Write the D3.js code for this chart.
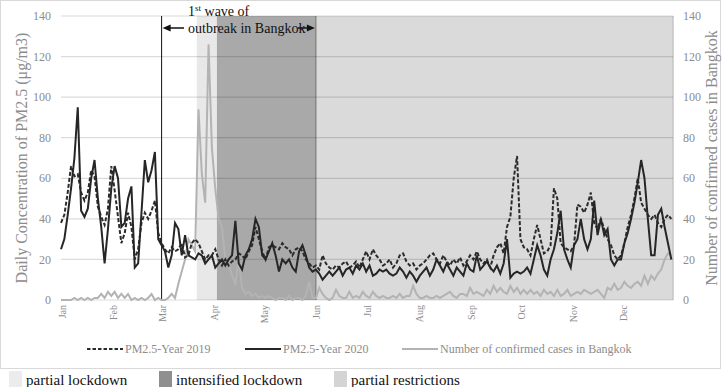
<!DOCTYPE html>
<head>
  <meta charset="utf-8">
  <script src="https://d3js.org/d3.v7.min.js"></script>
  <style>
    body { margin: 0; background: #fff; }
    text { font-family: "Liberation Serif", "Times New Roman", serif; }
    .tick-label { fill: #8c8c8c; font-size: 12px; }
  </style>
</head>
<body>
<svg width="722" height="387"></svg>
<script>
// daily values sampled every 2 days from Jan 1 (2020 calendar)
var pm2019 = [
  38,42,53,66,61,62,53,49,53,64,
  61,46,41,37,45,66,54,41,28,33,
  43,36,20,25,38,43,40,44,49,33,
  28,25,23,26,24,25,28,21,22,28,
  30,28,24,20,22,22,25,20,17,20,
  17,19,20,23,22,20,24,27,36,30,
  24,20,26,27,26,25,28,26,25,22,
  25,26,24,20,18,16,17,15,22,18,
  16,15,17,16,18,19,16,17,19,16,
  20,24,20,25,22,20,17,18,20,16,
  18,22,23,19,17,18,15,17,18,20,
  22,23,20,18,22,19,17,20,18,21,
  17,19,22,20,24,20,18,20,16,22,
  26,28,23,36,41,60,71,30,26,25,
  22,30,37,30,23,24,27,55,50,28,
  26,25,24,27,47,46,43,47,53,38,
  35,40,35,30,27,22,20,22,28,36,
  42,50,60,48,45,42,40,42,38,36,
  40,42,40
];
var pm2020 = [
  25,30,42,55,70,95,44,41,45,60,
  69,50,36,18,35,55,66,60,36,38,
  50,56,16,18,43,69,58,64,73,30,
  27,24,16,22,38,35,22,32,22,21,
  20,23,22,18,20,22,16,18,20,17,
  20,22,39,18,15,22,25,30,40,36,
  22,20,24,28,22,14,20,18,20,16,
  14,24,27,22,16,14,15,13,10,12,
  14,12,14,16,12,15,16,13,17,15,
  18,14,17,12,13,15,14,15,13,12,
  13,16,14,11,14,12,9,12,14,16,
  12,15,20,17,14,18,15,12,16,14,
  12,18,15,14,22,15,17,19,16,14,
  17,13,18,30,11,13,14,13,14,16,
  13,20,27,22,15,12,20,25,33,44,
  25,20,16,27,30,40,30,25,30,49,
  32,40,32,35,20,17,20,20,28,33,
  40,48,58,69,60,40,22,22,42,45,
  36,28,20
];
var cases = [
  0,0,0,0,1,0,1,0,1,0,
  1,1,3,1,4,2,4,1,3,1,
  3,0,1,0,1,0,1,3,0,1,
  0,0,1,3,1,8,14,20,30,27,
  24,94,62,48,126,75,55,40,36,20,
  18,12,8,20,6,3,4,2,3,1,
  2,1,2,1,0,1,1,0,2,0,
  1,1,0,2,9,1,1,6,3,1,
  0,1,5,2,1,1,4,1,2,1,
  4,2,1,4,2,1,2,1,1,2,
  1,3,1,2,2,7,3,1,1,2,
  1,1,2,1,2,3,4,2,1,3,
  3,2,6,3,4,3,2,5,3,7,
  4,6,4,3,7,4,6,3,5,3,
  5,3,4,2,5,3,4,2,5,2,
  3,5,2,3,4,3,5,4,3,4,
  5,3,1,6,5,8,5,6,9,7,
  6,8,9,7,12,8,12,10,13,15,
  20,23,22
];
var months = ["Jan","Feb","Mar","Apr","May","Jun","Jul","Aug","Sep","Oct","Nov","Dec"];
var yTicks = [0,20,40,60,80,100,120,140];
// measure periods
var periods = [
  {name: "partial lockdown", start: new Date(2020,2,22), end: new Date(2020,3,3), color: "#e8e8e8", swatch: "#ececec"},
  {name: "intensified lockdown", start: new Date(2020,3,3), end: new Date(2020,5,1), color: "#a9a9a9", swatch: "#8f8f8f"},
  {name: "partial restrictions", start: new Date(2020,5,1), end: new Date(2020,11,31), color: "#dadada", swatch: "#d4d4d4"}
];
var waveStart = new Date(2020,2,1), waveEnd = new Date(2020,5,1);

var svg = d3.select("svg");
var t0 = new Date(2020,0,1);
function dateOf(i) { return d3.timeDay.offset(t0, i * 2); }

var x = d3.scaleTime().domain([t0, new Date(2020,11,31)]).range([61, 673]);
var y = d3.scaleLinear().domain([0, 140]).range([300, 16]);
var yr = d3.scaleLinear().domain([0, 140]).range([300, 16]);

// outer frame
svg.append("rect").attr("x", 0.5).attr("y", 0.5).attr("width", 720).attr("height", 368)
  .attr("fill", "#fff").attr("stroke", "#d9d9d9");

// shaded periods
svg.selectAll(".period").data(periods).enter().append("rect")
  .attr("x", function(d) { return x(d.start); })
  .attr("width", function(d) { return x(d.end) - x(d.start); })
  .attr("y", y(140)).attr("height", y(0) - y(140))
  .attr("fill", function(d) { return d.color; });
svg.append("line").attr("x1", x(waveEnd)).attr("x2", x(waveEnd))
  .attr("y1", y(140)).attr("y2", y(0)).attr("stroke", "#7a7a7a").attr("stroke-width", 1.2);
svg.append("line").attr("x1", x.range()[1]).attr("x2", x.range()[1])
  .attr("y1", y(140)).attr("y2", y(0)).attr("stroke", "#c4c4c4").attr("stroke-width", 1.5);

// gridlines
svg.append("g").selectAll("line").data(yTicks).enter().append("line")
  .attr("x1", 61).attr("x2", 673)
  .attr("y1", function(d) { return y(d); }).attr("y2", function(d) { return y(d); })
  .attr("stroke", "rgba(0,0,0,0.14)").attr("stroke-width", 1.2);

// axis tick labels
svg.append("g").selectAll("text").data(yTicks).enter().append("text")
  .attr("class", "tick-label").attr("x", 51).attr("y", function(d) { return y(d); })
  .attr("dy", "0.35em").attr("text-anchor", "end").text(function(d) { return d; });
svg.append("g").selectAll("text").data(yTicks).enter().append("text")
  .attr("class", "tick-label").attr("x", 683).attr("y", function(d) { return yr(d); })
  .attr("dy", "0.35em").text(function(d) { return d; });
svg.append("g").selectAll("text").data(months).enter().append("text")
  .attr("transform", function(d, i) { return "translate(" + (x(new Date(2020, i, 1)) + 1) + ",305) rotate(-90)"; })
  .attr("dy", "0.35em").attr("text-anchor", "end")
  .attr("fill", "#8c8c8c").style("font-size", "10px").text(function(d) { return d; });

// axis titles
svg.append("text").attr("transform", "translate(21,158) rotate(-90)")
  .attr("text-anchor", "middle").attr("dy", "0.35em").attr("fill", "#8c8c8c")
  .style("font-size", "16px").text("Daily Concentration of PM2.5 (\u03bcg/m3)");
svg.append("text").attr("transform", "translate(711,158) rotate(-90)")
  .attr("text-anchor", "middle").attr("dy", "0.35em").attr("fill", "#8c8c8c")
  .style("font-size", "16px").text("Number of confirmed cases in Bangkok");

// 1st of March marker
svg.append("line").attr("x1", x(waveStart)).attr("x2", x(waveStart))
  .attr("y1", y(140)).attr("y2", y(0)).attr("stroke", "#111").attr("stroke-width", 1);

// series
var line = d3.line().x(function(d, i) { return x(dateOf(i)); }).y(function(d) { return y(d); });
var lineR = d3.line().x(function(d, i) { return x(dateOf(i)); }).y(function(d) { return yr(d); });

svg.append("path").datum(cases).attr("d", lineR)
  .attr("fill", "none").attr("stroke", "#b3b3b3").attr("stroke-width", 2);
svg.append("path").datum(pm2019).attr("d", line)
  .attr("fill", "none").attr("stroke", "#2b2b2b").attr("stroke-width", 2).attr("stroke-dasharray", "4,2");
svg.append("path").datum(pm2020).attr("d", line)
  .attr("fill", "none").attr("stroke", "#262626").attr("stroke-width", 2);

// wave annotation
var ann = svg.append("text").attr("x", 188).attr("y", 16).attr("fill", "#111").style("font-size", "14px");
ann.append("tspan").text("1");
ann.append("tspan").attr("dy", -5).style("font-size", "9px").text("st");
ann.append("tspan").attr("dy", 5).text(" wave of");
svg.append("text").attr("x", 188).attr("y", 33).attr("fill", "#111").style("font-size", "14px")
  .text("outbreak in Bangkok");
var xa = x(waveStart), xb = x(waveEnd), ay = 28;
svg.append("line").attr("x1", xa + 6).attr("x2", 184).attr("y1", ay).attr("y2", ay).attr("stroke", "#111").attr("stroke-width", 1.5);
svg.append("path").attr("d", "M" + (xa + 1) + "," + ay + "L" + (xa + 9) + "," + (ay - 3.5) + "L" + (xa + 9) + "," + (ay + 3.5) + "Z").attr("fill", "#111");
svg.append("line").attr("x1", 298).attr("x2", xb - 6).attr("y1", ay).attr("y2", ay).attr("stroke", "#111").attr("stroke-width", 1.5);
svg.append("path").attr("d", "M" + (xb - 1) + "," + ay + "L" + (xb - 9) + "," + (ay - 3.5) + "L" + (xb - 9) + "," + (ay + 3.5) + "Z").attr("fill", "#111");

// series legend
var legend = [
  {label: "PM2.5-Year 2019", x: 87, stroke: "#2b2b2b", dash: "3.5,2"},
  {label: "PM2.5-Year 2020", x: 245, stroke: "#262626", dash: null},
  {label: "Number of confirmed cases in Bangkok", x: 402, stroke: "#b3b3b3", dash: null}
];
var lg = svg.append("g").selectAll("g").data(legend).enter().append("g");
lg.append("line").attr("x1", function(d) { return d.x; }).attr("x2", function(d) { return d.x + 36; })
  .attr("y1", 349).attr("y2", 349).attr("stroke", function(d) { return d.stroke; })
  .attr("stroke-width", 2).attr("stroke-dasharray", function(d) { return d.dash; });
lg.append("text").attr("x", function(d) { return d.x + 38; }).attr("y", 349).attr("dy", "0.35em")
  .attr("fill", "#8c8c8c").style("font-size", "12px").text(function(d) { return d.label; });

// period legend
var pxs = [9, 159, 334];
var pl = svg.append("g").selectAll("g").data(periods).enter().append("g");
pl.append("rect").attr("x", function(d, i) { return pxs[i]; }).attr("y", 371).attr("width", 13).attr("height", 16)
  .attr("fill", function(d) { return d.swatch; });
pl.append("text").attr("x", function(d, i) { return pxs[i] + 17; }).attr("y", 380).attr("dy", "0.35em")
  .attr("fill", "#111").style("font-size", "15px").text(function(d) { return d.name; });
</script>
</body>
